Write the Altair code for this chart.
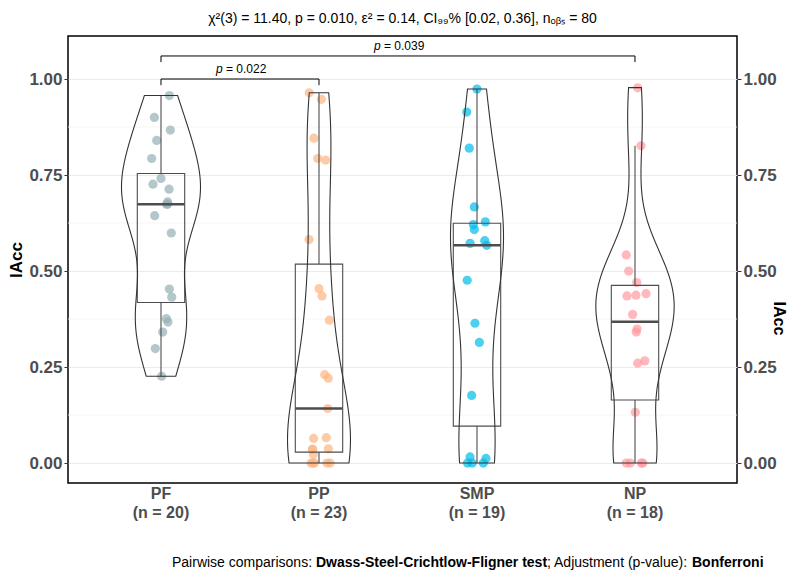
import altair as alt
import pandas as pd

FONT = "Liberation Sans, Arial, Helvetica, sans-serif"

# ---------------- data ----------------
categories = ["PF", "PP", "SMP", "NP"]
counts = [20, 23, 19, 18]
colors = ["#94AFB5", "#FCB580", "#00BCEA", "#FF9A9F"]

pf_values = [0.957, 0.900, 0.867, 0.840, 0.793, 0.741, 0.726, 0.713, 0.680, 0.674,
             0.674, 0.644, 0.599, 0.453, 0.432, 0.376, 0.367, 0.341, 0.298, 0.226]
pf_jitter = [0.053, -0.042, 0.059, -0.027, -0.059, 0.0, -0.051, 0.051, 0.042, 0.042,
             0.035, -0.040, 0.065, 0.053, 0.068, 0.034, 0.044, 0.011, -0.036, 0.004]
pp_values = [0.964, 0.947, 0.846, 0.793, 0.789, 0.582, 0.454, 0.435, 0.372, 0.230,
             0.221, 0.142, 0.066, 0.064, 0.037, 0.036, 0.035, 0.022, 0.0, 0.0,
             0.0, 0.0, 0.0]
pp_jitter = [-0.062, 0.015, -0.032, -0.008, 0.042, -0.063, 0.0, 0.019, 0.065, 0.036,
             0.059, 0.055, 0.046, -0.034, 0.059, -0.042, -0.040, -0.036, -0.050, -0.036,
             -0.030, 0.070, 0.050]
smp_values = [0.974, 0.914, 0.820, 0.667, 0.628, 0.621, 0.608, 0.579, 0.572, 0.567,
              0.476, 0.364, 0.314, 0.176, 0.016, 0.012, 0.0, 0.0, 0.0]
smp_jitter = [0.0, -0.065, -0.049, -0.017, 0.053, -0.023, -0.017, 0.049, -0.044, 0.062,
              -0.062, -0.013, 0.015, -0.034, -0.044, 0.057, -0.060, -0.030, 0.040]
np_values = [0.977, 0.826, 0.542, 0.500, 0.470, 0.441, 0.437, 0.435, 0.387, 0.349,
             0.341, 0.266, 0.260, 0.132, 0.0, 0.0, 0.0, 0.0]
np_jitter = [0.017, 0.038, -0.055, -0.040, 0.011, 0.070, 0.006, -0.051, -0.015, 0.013,
             0.008, 0.062, 0.017, 0.002, -0.055, -0.030, 0.040, 0.050]

major_ticks = [0.0, 0.25, 0.50, 0.75, 1.00]
minor_grid = [0.125, 0.375, 0.625, 0.875]

bracket_from = [1, 1]
bracket_to = [2, 4]
bracket_level = [1.00, 1.06]
bracket_pvalue = ["0.022", "0.039"]

stats_title = "χ²(3) = 11.40, p = 0.010, ε² = 0.14, CI₉₉% [0.02, 0.36], nₒᵦₛ = 80"
caption_parts = ["Pairwise comparisons: ", "Dwass-Steel-Crichtlow-Fligner test",
                 "; Adjustment (p-value): ", "Bonferroni"]
caption_bold = [False, True, False, True]
caption_x = [104, 248, 479, 624]

# ---------------- tables ----------------
rows = []
for i, (cat, vals, jits) in enumerate(zip(categories,
                                           [pf_values, pp_values, smp_values, np_values],
                                           [pf_jitter, pp_jitter, smp_jitter, np_jitter])):
    for v, j in zip(vals, jits):
        rows.append({"cat": cat, "idx": i + 1, "value": v, "jit": j})
df = pd.DataFrame(rows)

cat_df = pd.DataFrame({"idx": [1, 2, 3, 4], "name": categories,
                       "nlab": [f"(n = {n})" for n in counts]})

br = pd.DataFrame({"x1": bracket_from, "x2": bracket_to, "lev": bracket_level,
                   "rest": ["= " + p for p in bracket_pvalue]})
br["xm"] = (br["x1"] + br["x2"]) / 2
br["tip"] = br["lev"] - 0.016
br["pp"] = "p"

xscale = alt.Scale(domain=[0.4114, 4.6456], nice=False, zero=False)
yscale = alt.Scale(domain=[-0.052, 1.112], nice=False, zero=False)

axis_common = dict(values=major_ticks, format=".2f", domain=False, ticks=True,
                   tickColor="#333333", tickSize=4, labelFont=FONT, labelFontSize=17,
                   labelFontWeight="bold", labelColor="#4D4D4D",
                   title="IAcc", titleFont=FONT,
                   titleFontWeight="bold", titleColor="black")
left_axis = alt.Axis(orient="left", grid=True, gridColor="#EBEBEB", gridWidth=1.1,
                     labelPadding=2, titleFontSize=17, titlePadding=3, **axis_common)
right_axis = alt.Axis(orient="right", grid=False, labelPadding=2, titleFontSize=16,
                      titleX=41, titleY=282, titleBaseline="middle", titleAlign="center",
                      **axis_common)

x_axis = alt.Axis(values=[1, 2, 3, 4], labels=False, grid=True, gridColor="#EBEBEB",
                  gridWidth=1.1, domain=False, ticks=True, tickColor="#333333",
                  tickSize=4, title=None)

# ---------------- layers ----------------
grid_minor = alt.Chart(pd.DataFrame({"g": minor_grid})).mark_rule(
    color="#F3F3F3", strokeWidth=0.8
).encode(y=alt.Y("g:Q", scale=yscale, axis=left_axis))

points = alt.Chart(df).transform_calculate(
    xj="datum.idx + datum.jit"
).mark_circle(size=85, opacity=0.7).encode(
    x=alt.X("xj:Q", scale=xscale, axis=x_axis),
    y=alt.Y("value:Q", scale=yscale, axis=right_axis),
    color=alt.Color("cat:N", scale=alt.Scale(domain=categories, range=colors), legend=None),
)

box_base = alt.Chart(df).transform_joinaggregate(
    q1="q1(value)", q3="q3(value)", med="median(value)", groupby=["cat"]
).transform_calculate(
    lo="datum.q1 - 1.5 * (datum.q3 - datum.q1)",
    hi="datum.q3 + 1.5 * (datum.q3 - datum.q1)",
).transform_filter(
    "datum.value >= datum.lo && datum.value <= datum.hi"
).transform_aggregate(
    wlo="min(value)", whi="max(value)", groupby=["cat", "idx", "q1", "q3", "med"]
).transform_calculate(
    bl="datum.idx - 0.15", brr="datum.idx + 0.15"
)

box = box_base.mark_rect(fill="white", fillOpacity=0, stroke="#4D4D4D", strokeWidth=1.1).encode(
    x=alt.X("bl:Q", scale=xscale, axis=None), x2="brr:Q",
    y=alt.Y("q1:Q", scale=yscale, axis=None), y2="q3:Q")
whisk_hi = box_base.mark_rule(color="#4D4D4D", strokeWidth=1.1).encode(
    x=alt.X("idx:Q", scale=xscale, axis=None),
    y=alt.Y("q3:Q", scale=yscale, axis=None), y2="whi:Q")
whisk_lo = box_base.mark_rule(color="#4D4D4D", strokeWidth=1.1).encode(
    x=alt.X("idx:Q", scale=xscale, axis=None),
    y=alt.Y("wlo:Q", scale=yscale, axis=None), y2="q1:Q")
median = box_base.mark_rule(color="#4D4D4D", strokeWidth=2.6).encode(
    x=alt.X("bl:Q", scale=xscale, axis=None), x2="brr:Q",
    y=alt.Y("med:Q", scale=yscale, axis=None))

violin = alt.Chart(df).transform_joinaggregate(
    vmin="min(value)", vmax="max(value)", sd="stdev(value)",
    vq1="q1(value)", vq3="q3(value)", n="count()", groupby=["cat"]
).transform_calculate(
    bw="0.9 * min(datum.sd, (datum.vq3 - datum.vq1) / 1.34) * pow(datum.n, -0.2)"
).transform_calculate(
    vs="datum.value / datum.bw"
).transform_density(
    "vs", groupby=["cat", "idx", "vmin", "vmax", "bw"], extent=[0, 10], steps=2500,
    bandwidth=1, as_=["vs", "dens"]
).transform_calculate(
    v="datum.vs * datum.bw", d="datum.dens / datum.bw"
).transform_filter(
    "datum.v >= datum.vmin - 0.0005 && datum.v <= datum.vmax + 0.0005"
).transform_joinaggregate(
    dmax="max(d)"
).transform_calculate(
    xl="datum.idx - 0.25 * datum.d / datum.dmax",
    xr="datum.idx + 0.25 * datum.d / datum.dmax",
).mark_area(orient="horizontal", fill="white", fillOpacity=0, stroke="#333333",
            strokeWidth=1.1).encode(
    y=alt.Y("v:Q", scale=yscale, axis=None),
    x=alt.X("xl:Q", scale=xscale, axis=None), x2="xr:Q",
    detail="cat:N",
)

br_line = alt.Chart(br).mark_rule(color="black", strokeWidth=1).encode(
    x=alt.X("x1:Q", scale=xscale, axis=None), x2="x2:Q",
    y=alt.Y("lev:Q", scale=yscale, axis=None))
br_tip1 = alt.Chart(br).mark_rule(color="black", strokeWidth=1).encode(
    x=alt.X("x1:Q", scale=xscale, axis=None),
    y=alt.Y("lev:Q", scale=yscale, axis=None), y2="tip:Q")
br_tip2 = alt.Chart(br).mark_rule(color="black", strokeWidth=1).encode(
    x=alt.X("x2:Q", scale=xscale, axis=None),
    y=alt.Y("lev:Q", scale=yscale, axis=None), y2="tip:Q")
br_p = alt.Chart(br).mark_text(font=FONT, fontSize=12, fontStyle="italic", align="left",
                               baseline="bottom", dx=-24, dy=-3, color="black").encode(
    x=alt.X("xm:Q", scale=xscale, axis=None),
    y=alt.Y("lev:Q", scale=yscale, axis=None), text="pp:N")
br_rest = alt.Chart(br).mark_text(font=FONT, fontSize=12, align="left",
                                  baseline="bottom", dx=-14, dy=-3, color="black").encode(
    x=alt.X("xm:Q", scale=xscale, axis=None),
    y=alt.Y("lev:Q", scale=yscale, axis=None), text="rest:N")

cat_name = alt.Chart(cat_df).mark_text(font=FONT, fontSize=16, fontWeight="bold",
                                       color="#4D4D4D", baseline="middle").encode(
    x=alt.X("idx:Q", scale=xscale, axis=None), y=alt.value(458), text="name:N")
cat_n = alt.Chart(cat_df).mark_text(font=FONT, fontSize=16, fontWeight="bold",
                                    color="#4D4D4D", baseline="middle").encode(
    x=alt.X("idx:Q", scale=xscale, axis=None), y=alt.value(477), text="nlab:N")

caption_layers = []
for part, bold, cx in zip(caption_parts, caption_bold, caption_x):
    caption_layers.append(
        alt.Chart(pd.DataFrame({"t": [part]})).mark_text(
            font=FONT, fontSize=14, fontWeight="bold" if bold else "normal",
            align="left", baseline="middle", color="black"
        ).encode(x=alt.value(cx), y=alt.value(527), text="t:N")
    )

chart = alt.layer(
    grid_minor, points, box, whisk_hi, whisk_lo, median, violin,
    br_line, br_tip1, br_tip2, br_p, br_rest, cat_name, cat_n, *caption_layers
).resolve_scale(y="independent").properties(
    width=669, height=447,
    padding={"left": 60, "top": 28, "right": 51, "bottom": 88},
    autosize=alt.AutoSizeParams(type="none"),
    title=alt.TitleParams(stats_title, font=FONT, fontSize=14, fontWeight="normal",
                          color="black", anchor="middle", frame="group", offset=10),
).configure_view(stroke="black", strokeWidth=1.5)

chart.save("out.html", embed_options={"renderer": "svg", "actions": False})
